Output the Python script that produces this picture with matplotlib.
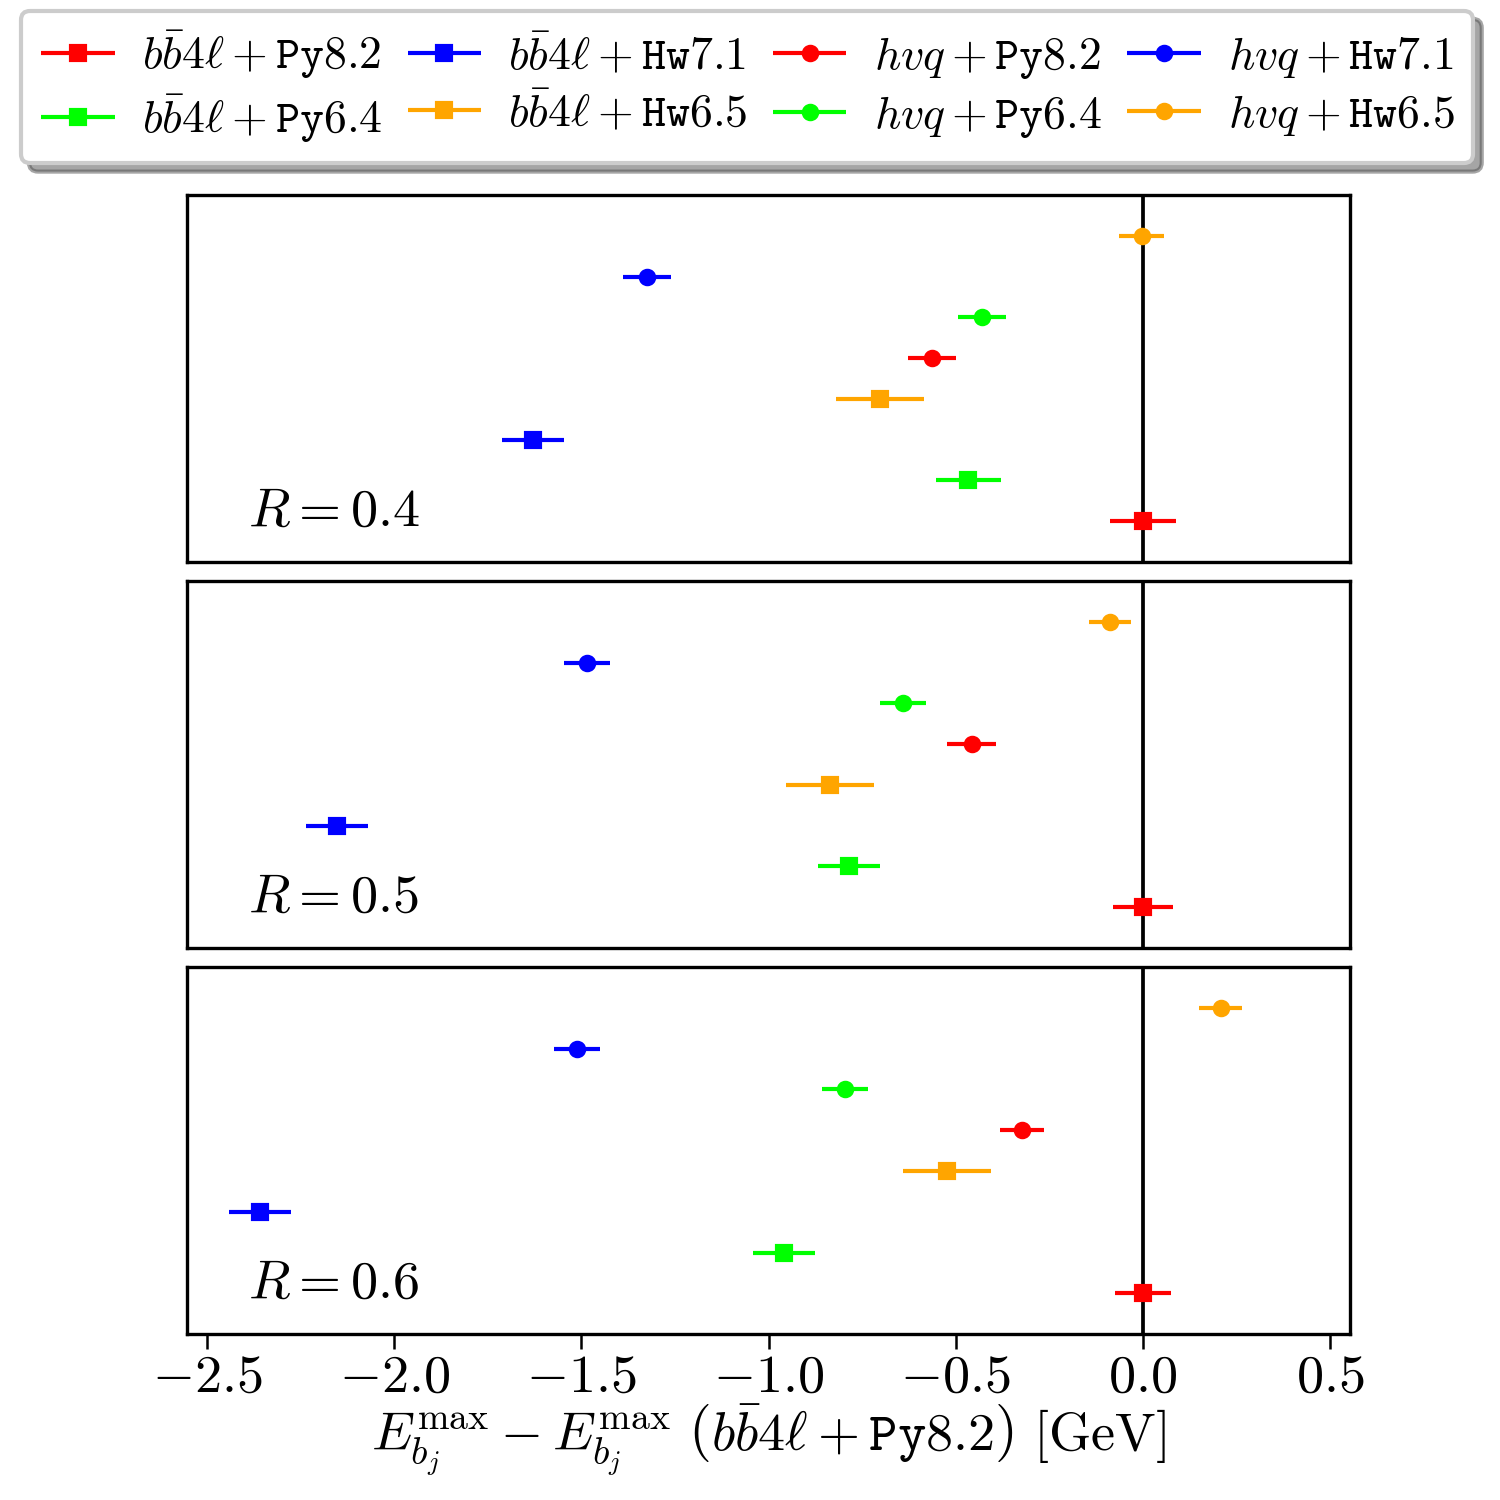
import numpy as np
import matplotlib
matplotlib.use("Agg")
import matplotlib.pyplot as plt
from matplotlib.ticker import FuncFormatter
from matplotlib.legend_handler import HandlerErrorbar
from matplotlib.container import ErrorbarContainer

plt.rcParams['mathtext.fontset'] = 'cm'
plt.rcParams['font.family'] = 'serif'
plt.rcParams['font.serif'] = ['DejaVu Serif']

# generators, order from bottom to top in each panel
labels = [r'$b\bar{b}4\ell + \mathtt{Py8.2}$', r'$b\bar{b}4\ell + \mathtt{Py6.4}$',
          r'$b\bar{b}4\ell + \mathtt{Hw7.1}$', r'$b\bar{b}4\ell + \mathtt{Hw6.5}$',
          r'$hvq + \mathtt{Py8.2}$', r'$hvq + \mathtt{Py6.4}$',
          r'$hvq + \mathtt{Hw7.1}$', r'$hvq + \mathtt{Hw6.5}$']
colors = ['#ff0000', '#00ff00', '#0000ff', '#ffa500',
          '#ff0000', '#00ff00', '#0000ff', '#ffa500']
markers = ['s', 's', 's', 's', 'o', 'o', 'o', 'o']
# vertical slot of each generator (0 = bottom)
ypos = [0, 1, 2, 3, 4, 5, 6, 7]

radii = ['0.4', '0.5', '0.6']

# shift w.r.t. bb4l + Py8.2 [GeV], same order as labels
shift_04 = [0.0, -0.467, -1.629, -0.702, -0.563, -0.430, -1.324, -0.003]
err_04 = [0.089, 0.087, 0.084, 0.117, 0.065, 0.064, 0.064, 0.060]
shift_05 = [0.0, -0.785, -2.152, -0.836, -0.457, -0.641, -1.485, -0.088]
err_05 = [0.080, 0.083, 0.082, 0.117, 0.065, 0.061, 0.061, 0.057]
shift_06 = [0.0, -0.959, -2.358, -0.523, -0.323, -0.796, -1.511, 0.208]
err_06 = [0.075, 0.083, 0.083, 0.117, 0.060, 0.061, 0.061, 0.057]

shifts = [shift_04, shift_05, shift_06]
errs = [err_04, err_05, err_06]

fig = plt.figure(figsize=(5, 5), dpi=300)

tops = [0.870, 0.6127, 0.3553]
height = 0.2447
axes = []
for k in range(3):
    ax = fig.add_axes([0.1247, tops[k] - height, 0.7753, height])
    axes.append(ax)
    ax.axvline(0, color='k', lw=0.9, zorder=1)
    for i in range(len(labels)):
        ax.errorbar(shifts[k][i], ypos[i], xerr=errs[k][i], fmt=markers[i],
                    color=colors[i], ms=3.2, elinewidth=1.0, capsize=0,
                    label=labels[i], zorder=3)
    ax.set_xlim(-2.553, 0.553)
    ax.set_ylim(-1, 8)
    ax.set_yticks([])
    ax.text(0.052, 0.14, r'$R = %s$' % radii[k], transform=ax.transAxes,
            fontsize=13, va='center', ha='left')
    for sp in ax.spines.values():
        sp.set_linewidth(0.8)
    if k < 2:
        ax.set_xticks([])

ax = axes[-1]
ax.set_xticks([-2.5, -2.0, -1.5, -1.0, -0.5, 0.0, 0.5])
ax.xaxis.set_major_formatter(FuncFormatter(lambda v, p: r'$%.1f$' % v))
ax.tick_params(axis='x', labelsize=13, width=0.6, length=3.5, pad=0.5)
ax.set_xlabel(r'$E_{b_j}^{\mathrm{max}} - E_{b_j}^{\mathrm{max}}\ \left(b\bar{b}4\ell + \mathtt{Py8.2}\right)\ [\mathrm{GeV}]$',
              fontsize=13, labelpad=0)

handles, labs = axes[0].get_legend_handles_labels()
fig.legend(handles, labs, loc='upper center', bbox_to_anchor=(0.498, 0.993),
           ncol=4, fontsize=11, fancybox=True, shadow=True, borderaxespad=0,
           columnspacing=0.5, handlelength=1.7, handletextpad=0.55,
           borderpad=0.4, labelspacing=0.25,
           handler_map={ErrorbarContainer: HandlerErrorbar(xerr_size=0.8)})

fig.savefig('out.png', dpi=300)
